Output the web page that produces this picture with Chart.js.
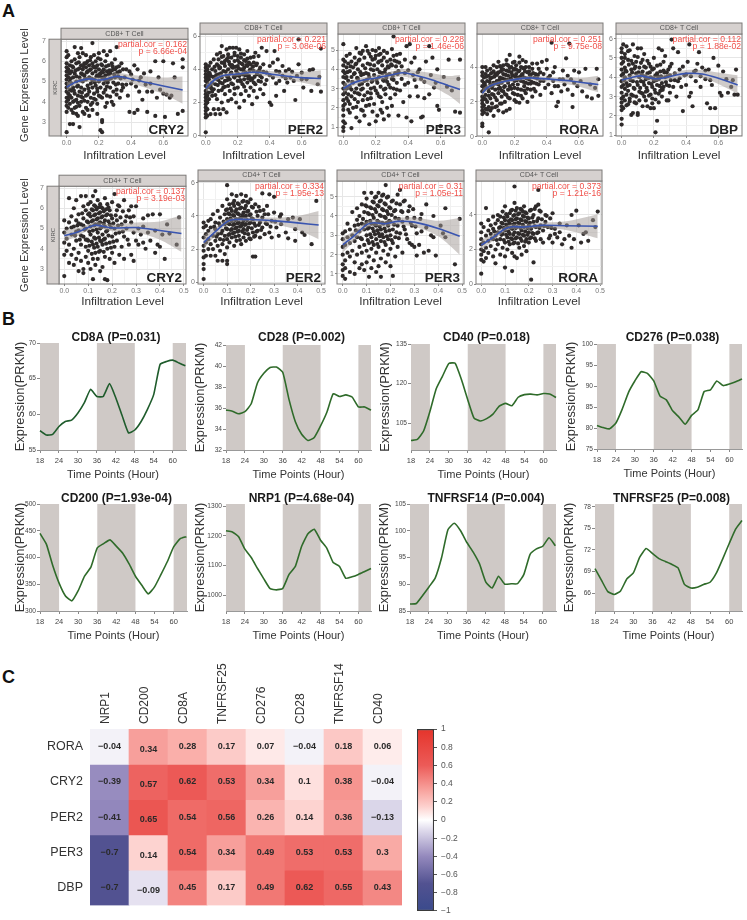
<!DOCTYPE html>
<html>
<head>
<meta charset="utf-8">
<title>Circadian genes and immune infiltration</title>
<script src="https://cdn.jsdelivr.net/npm/chart.js@4/dist/chart.umd.js"></script>
<style>
  html, body { margin: 0; padding: 0; background: #fff; }
  body { position: relative; width: 747px; height: 920px; overflow: hidden; font-family: "Liberation Sans", Arial, sans-serif; }
  canvas { position: absolute; }
  .letter { position: absolute; font-weight: bold; font-size: 18px; line-height: 18px; color: #111; }
</style>
</head>
<body>
<div class="letter" style="left:2px;top:2px">A</div>
<div class="letter" style="left:2px;top:310px">B</div>
<div class="letter" style="left:2px;top:668px">C</div>
<script>
const cd8Cry2Pts = [0,6.5,0,6.2,0,5.9,0,5.7,0,5.5,0,5.3,0,5.1,0,4.9,0,4.7,0,4.5,0,4.2,0,4.0,0,3.8,0,3.5,0,2.5,0.01,6.3,0.01,5.6,0.01,5.2,0.01,4.8,0.01,4.4,0.01,4.1,0.01,3.7,0.02,5.8,0.02,5.4,0.02,5.0,0.02,4.6,0.02,4.3,0.02,3.9,0.02,2.9,0.03,6.0,0.03,5.5,0.03,4.9,0.03,4.2,0.03,3.6,0.04,5.7,0.04,5.2,0.04,4.7,0.04,4.0,0.04,2.9,0.05,6.7,0.05,6.1,0.05,5.4,0.05,4.4,0.05,3.7,0.06,5.9,0.06,5.0,0.06,4.1,0.06,3.4,0.07,6.4,0.07,5.6,0.07,4.8,0.07,4.3,0.07,3.3,0.08,6.2,0.08,5.2,0.08,4.5,0.08,3.8,0.08,2.75,0.09,6.65,0.09,5.8,0.09,5.4,0.09,4.7,0.09,4.0,0.1,6.4,0.1,5.6,0.1,5.0,0.1,4.2,0.1,3.5,0.11,5.9,0.11,5.3,0.11,4.6,0.12,6.3,0.12,5.7,0.12,5.1,0.12,4.3,0.12,3.7,0.13,6.0,0.13,5.5,0.13,4.8,0.13,4.0,0.14,5.8,0.14,5.2,0.14,4.5,0.14,3.3,0.15,6.2,0.15,5.6,0.15,4.9,0.15,4.2,0.16,6.9,0.16,5.9,0.16,5.4,0.16,4.7,0.16,3.6,0.17,6.3,0.17,5.7,0.17,5.1,0.17,4.4,0.18,6.0,0.18,5.5,0.18,4.8,0.18,4.1,0.19,5.8,0.19,5.3,0.19,4.5,0.19,3.9,0.2,6.4,0.2,5.6,0.2,5.0,0.2,4.3,0.21,6.1,0.21,5.4,0.21,4.7,0.21,2.6,0.22,5.8,0.22,5.2,0.22,4.2,0.22,3.1,0.22,3.0,0.22,2.5,0.23,6.5,0.23,5.6,0.23,4.9,0.24,6.0,0.24,5.3,0.24,4.6,0.25,6.3,0.25,5.5,0.25,4.3,0.25,3.95,0.26,5.8,0.26,5.1,0.27,6.5,0.27,5.4,0.27,4.7,0.28,5.9,0.28,4.0,0.29,5.6,0.29,4.5,0.3,6.1,0.3,5.2,0.31,6.7,0.31,5.7,0.31,4.6,0.32,4.9,0.33,5.5,0.33,4.2,0.34,5.9,0.35,5.6,0.35,4.7,0.36,5.2,0.37,5.6,0.38,4.3,0.39,3.5,0.39,5.5,0.4,4.9,0.41,5.1,0.42,5.8,0.42,3.45,0.44,5.6,0.44,3.6,0.45,4.5,0.46,5.2,0.47,4.1,0.48,5.4,0.5,3.5,0.5,4.5,0.52,4.9,0.53,4.5,0.55,6.0,0.55,3.3,0.56,4.2,0.57,5.2,0.6,6.0,0.61,3.25,0.62,4.35,0.64,4.2,0.65,4.3,0.66,5.9,0.67,5.2,0.69,3.4,0.72,3.55,0.72,5.7,0.72,6.1];
const cd8Cry2Core = [0.015,5.45,0.025,5.15,0.035,5.75,0.045,4.55,0.055,5.55,0.065,4.75,0.075,5.95,0.085,5.05,0.095,4.45,0.105,5.75,0.115,5.15,0.125,5.45,0.135,4.65,0.145,6.05,0.155,5.15,0.165,5.75,0.175,4.95,0.185,5.25,0.195,6.15,0.205,5.35,0.215,5.85,0.225,5.45,0.235,5.15,0.245,5.75,0.255,4.95,0.265,5.55,0.275,5.15,0.285,5.75,0.295,5.35,0.305,4.85,0.315,5.45,0.325,5.75,0.335,5.15,0.345,4.85,0.015,4.25,0.03,4.55,0.05,4.05,0.07,3.95,0.09,4.25,0.11,4.05,0.13,4.35,0.15,3.85,0.17,4.15,0.19,4.65,0.21,4.25,0.23,4.45,0.25,4.75,0.27,4.25,0.29,4.95,0.31,4.35,0.06,5.25,0.08,5.65,0.1,5.35,0.12,5.9,0.14,5.55,0.16,5.05,0.18,5.7,0.2,5.25,0.22,5.5,0.24,5.05,0.26,5.35,0.28,5.55,0.3,5.6,0.32,5.25,0.04,3.45,0.06,3.75,0.11,3.4,0.13,3.6,0.16,3.95,0.19,3.4,0.24,3.75,0.29,3.85,0.34,4.55,0.37,4.85,0.4,5.35,0.43,4.75,0.45,5.05,0.49,4.85,0.52,5.5,0.58,4.6,0.6,4.4];

const cd8Per2Pts = [0,0.2,0,1.1,0,1.3,0,1.5,0,1.7,0,1.9,0,2.1,0,2.3,0,2.5,0,2.7,0,3.0,0,3.3,0,3.5,0,3.7,0,3.9,0,4.1,0,4.3,0.01,1.2,0.01,1.6,0.01,2.0,0.01,2.4,0.01,2.9,0.01,3.2,0.01,3.6,0.01,4.0,0.02,2.2,0.02,2.6,0.02,3.4,0.02,3.8,0.02,4.2,0.03,1.3,0.03,3.0,0.03,3.6,0.03,4.4,0.04,2.4,0.04,3.2,0.04,4.0,0.05,1.6,0.05,2.8,0.05,3.5,0.05,4.6,0.06,1.3,0.06,3.1,0.06,3.9,0.07,2.2,0.07,3.4,0.07,4.3,0.07,4.9,0.08,1.6,0.08,2.7,0.08,3.7,0.08,4.6,0.09,1.3,0.09,3.2,0.09,4.1,0.09,5.0,0.1,2.0,0.1,3.5,0.1,4.4,0.1,5.4,0.11,1.6,0.11,2.9,0.11,3.9,0.11,4.8,0.12,2.5,0.12,3.3,0.12,4.2,0.13,1.4,0.13,3.6,0.13,4.6,0.13,5.2,0.14,2.1,0.14,3.0,0.14,4.0,0.14,4.9,0.15,2.7,0.15,3.4,0.15,4.3,0.15,5.3,0.16,2.2,0.16,3.8,0.16,4.7,0.17,3.1,0.17,4.1,0.17,5.3,0.18,2.5,0.18,3.5,0.18,4.5,0.18,5.0,0.19,2.0,0.19,3.9,0.19,5.3,0.2,2.9,0.2,3.3,0.2,4.2,0.2,4.8,0.21,1.7,0.21,3.6,0.21,4.4,0.21,5.2,0.22,2.5,0.22,4.0,0.22,4.7,0.23,3.1,0.23,3.7,0.23,4.3,0.24,2.1,0.24,3.4,0.24,4.1,0.24,4.9,0.25,2.7,0.25,3.8,0.25,4.5,0.26,3.2,0.26,4.2,0.26,5.1,0.27,2.4,0.27,3.6,0.27,4.4,0.28,2.9,0.28,4.0,0.28,4.7,0.29,1.9,0.29,3.4,0.3,2.7,0.3,3.9,0.3,4.4,0.31,3.1,0.31,5.0,0.32,2.3,0.32,3.7,0.33,3.3,0.33,4.8,0.34,2.8,0.34,4.1,0.35,5.3,0.35,3.5,0.36,2.5,0.36,4.3,0.37,3.1,0.38,3.8,0.38,5.1,0.4,2.0,0.4,4.2,0.41,1.85,0.42,3.5,0.43,5.1,0.44,2.4,0.44,3.9,0.45,4.6,0.46,3.3,0.48,3.6,0.48,4.2,0.49,2.7,0.5,3.9,0.51,3.2,0.52,4.0,0.53,3.5,0.55,3.3,0.56,2.15,0.57,3.6,0.58,5.8,0.58,4.3,0.6,3.8,0.61,2.9,0.63,3.4,0.65,3.95,0.66,2.7,0.67,4.0,0.7,3.1,0.71,3.55,0.72,5.25,0.72,2.65];
const cd8Per2Core = [0.015,3.45,0.025,3.75,0.035,2.85,0.045,3.55,0.055,4.15,0.065,3.65,0.075,3.05,0.085,4.05,0.095,3.75,0.105,3.15,0.115,4.35,0.125,3.85,0.135,3.35,0.145,4.45,0.155,3.75,0.165,4.25,0.175,3.55,0.185,4.15,0.195,3.65,0.205,4.05,0.215,3.35,0.225,4.35,0.235,3.95,0.245,3.65,0.255,4.25,0.265,3.45,0.275,3.95,0.285,3.45,0.295,4.15,0.305,3.55,0.315,4.25,0.325,3.85,0.335,3.95,0.345,3.25,0.02,2.95,0.04,2.65,0.06,2.45,0.08,3.35,0.1,2.75,0.12,2.95,0.14,3.55,0.16,3.15,0.18,2.85,0.2,3.75,0.22,3.25,0.24,2.95,0.26,3.65,0.28,3.35,0.3,3.2,0.32,4.35,0.34,3.6,0.36,3.85,0.08,4.2,0.1,4.75,0.12,4.5,0.14,4.7,0.16,4.15,0.18,4.85,0.2,4.55,0.22,4.95,0.24,4.55,0.26,4.65,0.28,4.3,0.3,4.75,0.38,3.35,0.4,3.65,0.42,4.4,0.44,3.15,0.46,3.85,0.5,3.45,0.54,3.85,0.6,3.4];

const cd8Per3Pts = [0,0.8,0,1.0,0,1.3,0,1.6,0,1.9,0,2.1,0,2.4,0,2.7,0,3.0,0,3.3,0,3.6,0,3.9,0,4.2,0,4.5,0,5.3,0.01,1.2,0.01,2.2,0.01,2.8,0.01,3.2,0.01,3.8,0.01,4.4,0.02,2.5,0.02,3.0,0.02,3.6,0.02,4.1,0.02,4.7,0.03,1.9,0.03,2.7,0.03,3.4,0.03,4.3,0.04,2.2,0.04,3.1,0.04,3.9,0.04,4.8,0.05,0.95,0.05,2.6,0.05,3.6,0.05,4.4,0.06,2.0,0.06,3.3,0.06,4.1,0.07,2.8,0.07,3.8,0.07,4.6,0.08,1.5,0.08,3.0,0.08,4.3,0.08,5.1,0.09,2.3,0.09,3.5,0.09,4.0,0.1,1.3,0.1,2.7,0.1,3.2,0.1,4.5,0.11,1.9,0.11,3.7,0.11,4.8,0.12,2.4,0.12,3.0,0.12,4.2,0.13,1.6,0.13,3.4,0.13,4.6,0.14,2.1,0.14,3.8,0.14,5.2,0.15,2.8,0.15,3.2,0.15,4.3,0.16,1.15,0.16,3.6,0.16,4.8,0.17,2.5,0.17,3.0,0.17,4.0,0.18,1.8,0.18,3.4,0.18,4.5,0.18,5.0,0.19,2.2,0.19,3.7,0.19,4.2,0.2,1.3,0.2,2.9,0.2,4.7,0.21,1.6,0.21,3.3,0.21,4.0,0.22,2.6,0.22,3.6,0.22,4.4,0.22,5.1,0.23,1.9,0.23,3.1,0.23,4.8,0.24,2.3,0.24,3.8,0.24,4.2,0.25,1.4,0.25,3.4,0.25,4.6,0.26,2.7,0.26,3.0,0.26,4.0,0.27,2.0,0.27,3.7,0.27,4.4,0.28,1.6,0.28,3.2,0.28,4.1,0.29,2.5,0.29,4.5,0.3,2.1,0.3,3.5,0.3,4.2,0.31,3.0,0.31,5.7,0.31,4.7,0.32,2.7,0.32,3.8,0.33,3.3,0.33,4.4,0.34,1.6,0.34,3.9,0.35,2.9,0.35,4.8,0.36,3.5,0.37,2.3,0.38,3.8,0.38,4.5,0.39,1.5,0.39,5.2,0.4,3.3,0.41,2.6,0.41,5.3,0.42,1.3,0.43,3.7,0.44,4.6,0.45,3.1,0.46,2.6,0.47,4.0,0.48,1.5,0.48,3.5,0.49,1.55,0.5,2.5,0.51,4.4,0.53,2.7,0.53,5.2,0.54,3.7,0.55,4.6,0.57,3.3,0.58,2.1,0.58,4.0,0.59,1.9,0.6,1.05,0.62,3.6,0.64,3.1,0.65,4.5,0.67,2.9,0.69,1.8,0.71,3.5,0.72,1.75,0.72,4.5];
const cd8Per3Core = [0.015,3.55,0.025,3.85,0.035,3.05,0.045,4.15,0.055,3.35,0.065,3.75,0.075,4.25,0.085,3.55,0.095,4.45,0.105,3.85,0.115,3.25,0.125,3.75,0.135,4.05,0.145,3.45,0.155,3.75,0.165,4.25,0.175,3.35,0.185,3.95,0.195,4.55,0.205,3.45,0.215,4.35,0.225,3.85,0.235,4.45,0.245,3.45,0.255,3.85,0.265,3.55,0.275,4.15,0.285,3.75,0.295,4.25,0.305,3.65,0.315,4.45,0.325,4.15,0.335,3.75,0.345,4.35,0.03,2.35,0.05,2.95,0.07,2.45,0.09,2.75,0.11,2.95,0.13,2.65,0.15,2.45,0.17,2.75,0.19,3.05,0.21,2.75,0.23,2.55,0.25,2.95,0.27,3.35,0.29,3.05,0.31,3.45,0.33,2.95,0.04,1.75,0.08,2.05,0.12,1.85,0.16,2.15,0.24,1.75,0.1,4.85,0.12,4.95,0.15,4.95,0.17,4.65,0.2,4.95,0.22,4.75,0.25,4.95,0.27,4.85,0.3,5.05,0.33,4.75,0.36,4.15,0.38,3.2,0.4,3.95,0.42,4.35,0.44,3.45,0.46,3.85,0.5,3.35,0.56,3.05];

const cd8RoraPts = [0,0.6,0,0.75,0,1.3,0,1.5,0,1.7,0,1.9,0,2.1,0,2.3,0,2.6,0,2.9,0,3.2,0,3.5,0,3.7,0,4.0,0.01,1.4,0.01,1.8,0.01,2.2,0.01,2.7,0.01,3.1,0.01,3.4,0.02,1.6,0.02,2.4,0.02,2.9,0.02,3.6,0.02,4.0,0.03,1.3,0.03,2.0,0.03,3.2,0.03,3.8,0.04,0.25,0.04,1.7,0.04,2.6,0.04,3.5,0.05,1.5,0.05,2.2,0.05,3.0,0.05,3.9,0.06,1.9,0.06,2.8,0.06,3.4,0.07,1.2,0.07,2.4,0.07,3.1,0.07,4.1,0.08,1.7,0.08,2.7,0.08,3.6,0.09,2.1,0.09,3.2,0.09,4.0,0.1,1.5,0.1,2.5,0.1,3.0,0.1,3.7,0.1,4.3,0.11,1.9,0.11,2.8,0.11,3.4,0.12,2.3,0.12,3.1,0.12,3.9,0.13,1.4,0.13,2.6,0.13,3.6,0.13,4.1,0.14,2.0,0.14,2.9,0.14,3.3,0.15,1.5,0.15,2.4,0.15,3.8,0.15,4.4,0.16,2.7,0.16,3.1,0.16,3.5,0.16,4.1,0.17,1.6,0.17,2.2,0.17,2.9,0.17,4.7,0.18,3.3,0.18,3.7,0.18,4.0,0.19,2.5,0.19,3.0,0.19,3.5,0.2,2.1,0.2,2.8,0.2,3.2,0.2,3.9,0.2,4.3,0.21,2.0,0.21,3.6,0.21,4.1,0.22,2.4,0.22,3.0,0.22,3.4,0.23,1.95,0.23,3.8,0.23,4.6,0.24,2.7,0.24,3.2,0.24,4.0,0.25,2.2,0.25,3.6,0.25,4.4,0.26,2.9,0.26,3.4,0.26,3.9,0.27,2.5,0.27,3.1,0.27,4.3,0.28,3.7,0.28,2.0,0.29,3.3,0.29,4.0,0.3,2.7,0.3,3.5,0.31,2.3,0.31,3.9,0.32,3.1,0.33,2.6,0.33,3.6,0.34,4.2,0.35,3.0,0.36,2.4,0.36,3.7,0.37,4.3,0.38,3.2,0.39,2.8,0.4,3.9,0.4,4.4,0.41,3.0,0.42,3.5,0.43,5.4,0.43,2.5,0.44,3.2,0.45,2.9,0.45,4.0,0.46,1.75,0.47,2.0,0.48,3.3,0.49,2.6,0.5,3.8,0.51,3.0,0.52,4.5,0.53,2.7,0.54,5.35,0.55,3.3,0.56,1.7,0.56,2.4,0.57,3.8,0.59,2.9,0.6,3.7,0.61,3.2,0.62,2.6,0.64,3.9,0.65,2.3,0.67,3.0,0.68,2.2,0.7,2.8,0.71,3.9,0.72,3.3,0.72,2.35];
const cd8RoraCore = [0.015,3.05,0.025,3.45,0.035,2.75,0.045,3.15,0.055,3.65,0.065,2.95,0.075,3.45,0.085,3.05,0.095,3.65,0.105,3.25,0.115,3.75,0.125,3.35,0.135,2.85,0.145,3.55,0.155,3.25,0.165,3.75,0.175,3.35,0.185,3.55,0.195,3.85,0.205,3.45,0.215,3.25,0.225,3.75,0.235,3.45,0.245,3.55,0.255,3.15,0.265,3.75,0.275,3.35,0.285,3.05,0.295,3.55,0.305,3.15,0.315,3.65,0.325,3.4,0.335,3.05,0.345,3.55,0.02,2.15,0.04,2.35,0.06,2.45,0.08,2.25,0.1,2.75,0.12,2.65,0.14,2.45,0.16,2.25,0.18,2.75,0.2,2.45,0.22,2.75,0.24,2.35,0.26,2.65,0.28,2.75,0.3,3.05,0.32,2.75,0.34,3.35,0.36,3.2,0.05,3.35,0.07,3.75,0.09,3.55,0.11,4.05,0.13,3.85,0.15,4.15,0.17,3.95,0.19,4.25,0.21,3.85,0.23,4.25,0.25,3.95,0.27,4.0,0.29,3.75,0.31,4.2,0.35,3.9,0.38,3.6,0.41,3.4,0.44,3.7,0.47,2.9,0.5,3.3,0.53,3.5,0.57,3.1,0.03,1.55,0.06,1.65,0.09,1.75,0.12,1.9];

const cd8DbpPts = [0,1.55,0,1.85,0,2.3,0,2.5,0,2.7,0,2.9,0,3.2,0,3.5,0,3.8,0,4.1,0,4.4,0,4.7,0,5.0,0,5.3,0,5.5,0.01,2.4,0.01,3.0,0.01,3.6,0.01,4.2,0.01,4.8,0.01,5.7,0.02,2.8,0.02,3.4,0.02,4.0,0.02,4.5,0.02,5.2,0.03,3.1,0.03,3.7,0.03,4.3,0.03,5.6,0.04,2.6,0.04,3.3,0.04,4.9,0.05,2.9,0.05,4.1,0.05,5.4,0.05,3.6,0.06,2.05,0.06,3.1,0.06,4.4,0.07,2.15,0.07,3.8,0.07,4.7,0.07,5.7,0.08,2.7,0.08,3.4,0.08,5.1,0.09,3.0,0.09,4.2,0.09,4.8,0.1,2.05,0.1,2.15,0.1,3.6,0.1,5.5,0.11,2.8,0.11,4.0,0.11,4.5,0.12,3.2,0.12,3.8,0.12,5.5,0.13,2.5,0.13,4.3,0.13,4.9,0.14,3.0,0.14,3.6,0.14,5.2,0.15,2.8,0.15,3.9,0.15,4.5,0.16,2.5,0.16,3.3,0.16,4.2,0.17,3.7,0.17,4.7,0.18,2.4,0.18,3.1,0.18,4.0,0.19,2.9,0.19,3.5,0.19,4.4,0.2,2.4,0.2,3.8,0.2,5.0,0.21,1.15,0.21,3.2,0.21,4.1,0.22,1.75,0.22,3.6,0.22,4.6,0.23,2.7,0.23,3.9,0.23,5.5,0.24,3.3,0.24,4.3,0.25,3.0,0.25,3.7,0.25,5.4,0.26,3.5,0.26,4.8,0.27,4.0,0.27,5.1,0.28,2.8,0.28,3.6,0.29,4.4,0.29,2.8,0.3,3.2,0.3,4.1,0.31,5.95,0.31,4.7,0.32,3.5,0.32,5.5,0.33,4.2,0.34,3.0,0.35,5.3,0.35,3.8,0.36,4.4,0.37,3.5,0.38,2.25,0.39,4.1,0.4,3.6,0.41,4.8,0.42,5.7,0.42,3.0,0.43,3.2,0.44,2.5,0.45,4.3,0.46,3.8,0.47,4.7,0.48,5.3,0.49,3.5,0.5,4.5,0.52,3.9,0.53,2.65,0.54,4.4,0.55,2.4,0.56,3.6,0.57,5.0,0.58,2.4,0.6,4.6,0.61,3.2,0.62,3.05,0.63,4.3,0.65,3.9,0.66,3.2,0.68,3.5,0.69,3.85,0.7,3.1,0.71,4.4,0.72,3.1];
const cd8DbpCore = [0.015,3.85,0.025,4.35,0.035,3.55,0.045,4.65,0.055,3.85,0.065,4.25,0.075,3.45,0.085,4.55,0.095,3.75,0.105,4.25,0.115,3.45,0.125,4.15,0.135,3.75,0.145,4.05,0.155,3.45,0.165,3.95,0.175,4.25,0.185,3.65,0.195,3.95,0.205,3.35,0.215,3.85,0.225,4.05,0.235,3.55,0.245,4.05,0.255,3.35,0.265,4.25,0.275,3.75,0.285,4.05,0.295,3.55,0.305,3.85,0.03,2.55,0.05,2.75,0.07,3.05,0.09,2.65,0.11,3.25,0.13,3.15,0.15,3.25,0.17,3.05,0.19,2.65,0.21,2.85,0.23,3.15,0.25,3.45,0.02,5.0,0.04,5.35,0.06,4.85,0.08,4.45,0.1,5.05,0.12,4.75,0.14,4.55,0.16,4.85,0.18,4.55,0.2,4.45,0.22,4.2,0.24,4.65,0.26,4.35,0.28,4.25,0.3,4.55,0.33,3.85,0.36,3.95,0.38,4.55,0.4,4.15,0.43,4.05,0.46,4.35,0.49,4.05,0.52,4.35,0.55,3.85];

const cd4Cry2Pts = [0,2.65,0,3.7,0,4.3,0,4.8,0,5.4,0.01,3.9,0.01,4.5,0.01,5.0,0.02,5.3,0.02,6.5,0.02,4.2,0.02,3.3,0.03,4.7,0.03,5.6,0.03,3.7,0.04,4.0,0.04,5.1,0.04,6.0,0.04,3.2,0.05,4.4,0.05,5.4,0.05,6.4,0.05,3.5,0.06,3.8,0.06,4.9,0.06,5.7,0.06,2.9,0.07,4.2,0.07,5.2,0.07,6.6,0.07,3.4,0.08,4.6,0.08,5.5,0.08,6.1,0.08,3.0,0.08,2.8,0.09,3.6,0.09,4.1,0.09,5.0,0.09,5.9,0.09,6.6,0.1,3.3,0.1,4.4,0.1,5.3,0.1,6.2,0.1,5.7,0.1,3.9,0.11,4.7,0.11,5.1,0.11,5.6,0.11,6.3,0.11,3.0,0.12,3.5,0.12,4.2,0.12,4.9,0.12,5.4,0.12,5.9,0.12,6.6,0.12,2.5,0.13,3.8,0.13,4.5,0.13,5.2,0.13,5.7,0.13,6.1,0.13,6.85,0.13,3.2,0.14,4.1,0.14,4.8,0.14,5.5,0.14,6.4,0.14,3.5,0.15,4.4,0.15,5.0,0.15,5.3,0.15,5.8,0.15,6.2,0.15,2.9,0.15,3.9,0.16,4.2,0.16,4.7,0.16,5.6,0.16,6.0,0.16,3.1,0.17,3.6,0.17,4.5,0.17,5.1,0.17,5.4,0.17,6.5,0.17,2.5,0.18,4.0,0.18,4.9,0.18,5.7,0.18,6.2,0.18,2.45,0.19,3.5,0.19,4.3,0.19,5.2,0.19,5.9,0.2,3.8,0.2,4.6,0.2,5.5,0.2,6.3,0.21,3.3,0.21,4.1,0.21,5.0,0.21,6.7,0.22,4.4,0.22,5.4,0.22,5.9,0.23,3.7,0.23,4.8,0.23,6.1,0.24,4.1,0.24,5.2,0.25,3.5,0.25,4.6,0.25,6.4,0.26,5.0,0.26,5.6,0.27,4.2,0.27,5.9,0.28,3.7,0.28,5.3,0.28,6.1,0.29,4.8,0.29,3.4,0.3,6.1,0.3,4.4,0.31,5.0,0.32,4.7,0.33,5.5,0.33,4.3,0.34,4.0,0.35,4.8,0.36,4.4,0.37,5.7,0.38,3.8,0.38,4.9,0.39,4.2,0.4,5.7,0.4,4.1,0.41,4.7,0.42,3.5,0.43,5.2,0.44,4.75,0.47,4.2,0.48,5.55];
const cd4Cry2Core = [0.045,4.65,0.055,5.15,0.065,4.45,0.075,5.75,0.085,4.95,0.095,5.35,0.095,4.45,0.105,5.75,0.105,4.85,0.105,4.15,0.115,5.35,0.115,5.95,0.115,4.35,0.115,3.75,0.125,5.65,0.125,5.15,0.125,4.55,0.125,4.05,0.125,6.15,0.135,5.45,0.135,4.95,0.135,4.25,0.135,5.95,0.145,5.75,0.145,5.25,0.145,4.55,0.145,6.05,0.145,3.85,0.155,5.55,0.155,5.05,0.155,4.35,0.155,6.05,0.165,5.85,0.165,5.25,0.165,4.45,0.165,3.85,0.175,5.65,0.175,4.85,0.175,4.25,0.175,5.95,0.185,5.35,0.185,4.65,0.185,6.05,0.195,5.65,0.195,5.05,0.195,4.05,0.205,5.25,0.205,4.35,0.215,5.65,0.215,4.75,0.225,5.15,0.225,6.15,0.235,5.55,0.245,4.85,0.245,5.85,0.255,5.35,0.265,4.45,0.275,5.55,0.03,5.05,0.05,4.85,0.07,4.65,0.09,4.45,0.06,5.25,0.08,5.15,0.29,5.6,0.31,4.2,0.33,5.1,0.35,5.65];

const cd4Per2Pts = [0,0.2,0,0.8,0,1.1,0,1.5,0,1.9,0,2.2,0,2.7,0,3.3,0,3.6,0.01,1.6,0.01,2.4,0.01,2.9,0.01,3.4,0.02,2.0,0.02,3.1,0.02,3.7,0.02,2.6,0.03,1.6,0.03,2.3,0.03,3.3,0.03,3.8,0.04,2.0,0.04,2.8,0.04,4.1,0.05,1.6,0.05,2.5,0.05,3.2,0.05,3.6,0.06,1.3,0.06,2.2,0.06,2.9,0.06,4.3,0.07,1.9,0.07,2.6,0.07,3.4,0.07,3.9,0.08,1.3,0.08,2.3,0.08,3.1,0.08,4.6,0.09,1.7,0.09,2.8,0.09,3.5,0.09,4.1,0.1,1.1,0.1,1.3,0.1,2.1,0.1,2.6,0.1,3.2,0.1,3.8,0.1,4.4,0.1,5.85,0.1,5.0,0.11,2.4,0.11,2.9,0.11,3.5,0.11,4.7,0.11,4.1,0.12,2.7,0.12,3.2,0.12,3.7,0.12,4.3,0.12,5.3,0.13,2.2,0.13,3.0,0.13,3.5,0.13,4.0,0.13,4.6,0.13,4.9,0.14,2.5,0.14,3.3,0.14,3.8,0.14,4.4,0.14,5.2,0.15,2.8,0.15,3.1,0.15,3.6,0.15,4.1,0.15,4.7,0.16,2.3,0.16,3.4,0.16,3.9,0.16,4.5,0.16,5.3,0.17,2.7,0.17,3.2,0.17,3.7,0.17,4.2,0.17,4.9,0.18,2.5,0.18,3.5,0.18,4.0,0.18,4.6,0.18,5.2,0.19,2.9,0.19,3.3,0.19,4.3,0.19,4.8,0.2,2.6,0.2,3.6,0.2,4.1,0.2,5.0,0.21,1.55,0.21,3.0,0.21,3.8,0.21,4.5,0.22,1.55,0.22,2.8,0.22,3.4,0.22,4.7,0.23,3.1,0.23,4.0,0.24,2.7,0.24,3.6,0.24,4.3,0.25,3.3,0.25,5.35,0.25,3.9,0.26,2.9,0.26,4.1,0.27,3.5,0.27,4.6,0.28,3.0,0.28,5.3,0.29,3.7,0.29,2.7,0.3,4.2,0.3,5.15,0.31,3.3,0.32,2.8,0.33,3.5,0.33,4.1,0.35,3.0,0.36,2.65,0.36,3.8,0.38,3.9,0.39,3.2,0.39,2.5,0.41,3.8,0.42,3.0,0.43,2.85,0.46,2.3,0.48,4.9];
const cd4Per2Core = [0.045,3.35,0.055,2.75,0.065,3.55,0.075,2.95,0.085,3.65,0.085,2.55,0.095,3.25,0.095,4.35,0.105,3.55,0.105,2.85,0.105,4.15,0.115,3.15,0.115,3.85,0.115,4.45,0.125,2.95,0.125,3.45,0.125,4.05,0.125,4.75,0.135,2.75,0.135,3.25,0.135,3.75,0.135,4.25,0.145,3.05,0.145,3.55,0.145,4.15,0.145,4.75,0.155,2.55,0.155,3.35,0.155,3.85,0.155,4.45,0.165,3.05,0.165,3.55,0.165,4.05,0.165,4.85,0.175,2.95,0.175,3.45,0.175,3.95,0.175,4.45,0.185,3.15,0.185,3.75,0.185,4.25,0.185,4.85,0.195,2.65,0.195,3.55,0.195,4.05,0.205,3.25,0.205,3.85,0.205,4.55,0.215,2.75,0.215,3.55,0.225,3.05,0.225,4.25,0.235,3.45,0.235,4.55,0.245,3.15,0.255,4.35,0.265,3.55,0.275,4.1,0.285,3.35,0.305,3.65,0.325,3.95];

const cd4Per3Pts = [0,0.9,0,1.2,0,1.5,0,2.0,0,2.4,0,2.8,0,3.1,0.01,0.75,0.01,1.3,0.01,1.7,0.01,2.5,0.01,3.2,0.02,2.1,0.02,2.9,0.02,3.6,0.03,1.1,0.03,1.9,0.03,2.6,0.03,3.3,0.04,2.2,0.04,3.0,0.04,4.2,0.05,1.0,0.05,1.6,0.05,2.7,0.05,3.5,0.06,2.0,0.06,2.9,0.06,3.8,0.06,4.4,0.07,1.3,0.07,2.4,0.07,3.2,0.07,4.0,0.08,1.5,0.08,2.1,0.08,2.8,0.08,3.6,0.08,4.6,0.09,1.2,0.09,2.5,0.09,3.3,0.09,4.2,0.09,5.2,0.1,1.6,0.1,2.2,0.1,3.0,0.1,3.7,0.1,4.5,0.1,4.9,0.11,0.85,0.11,1.9,0.11,2.6,0.11,3.4,0.11,4.1,0.12,1.3,0.12,2.3,0.12,2.9,0.12,3.6,0.12,4.4,0.12,5.2,0.13,1.7,0.13,2.5,0.13,3.2,0.13,3.9,0.13,4.7,0.14,1.1,0.14,2.1,0.14,2.8,0.14,3.5,0.14,4.2,0.14,5.0,0.15,1.4,0.15,2.4,0.15,3.1,0.15,3.7,0.15,4.5,0.15,5.2,0.16,0.85,0.16,1.8,0.16,2.7,0.16,3.3,0.16,4.0,0.16,4.8,0.17,2.2,0.17,2.9,0.17,3.6,0.17,4.3,0.17,5.1,0.18,1.6,0.18,2.5,0.18,3.2,0.18,3.9,0.18,4.6,0.18,5.6,0.19,2.0,0.19,2.8,0.19,3.5,0.19,4.1,0.19,5.0,0.2,1.4,0.2,2.3,0.2,3.0,0.2,3.7,0.2,4.4,0.21,0.9,0.21,2.6,0.21,3.3,0.21,4.8,0.22,1.9,0.22,2.9,0.22,3.9,0.22,4.3,0.23,2.4,0.23,3.5,0.23,5.1,0.24,3.1,0.24,4.6,0.24,5.35,0.25,2.1,0.25,3.7,0.25,4.2,0.26,3.3,0.26,4.8,0.27,2.8,0.27,3.9,0.28,2.6,0.28,4.5,0.29,2.5,0.29,3.5,0.3,2.4,0.3,3.9,0.31,1.95,0.31,3.1,0.32,2.5,0.33,3.2,0.33,4.1,0.34,2.1,0.35,4.6,0.35,3.4,0.36,2.2,0.37,3.0,0.38,2.9,0.38,4.0,0.39,1.95,0.41,3.5,0.42,3.1,0.43,2.9,0.43,4.4,0.47,1.5,0.49,3.85];
const cd4Per3Core = [0.055,3.25,0.065,3.55,0.075,2.85,0.085,3.85,0.095,3.55,0.095,4.55,0.105,3.35,0.105,4.15,0.105,2.75,0.115,3.75,0.115,4.45,0.115,3.05,0.125,3.35,0.125,4.05,0.125,4.75,0.125,2.65,0.135,3.55,0.135,4.35,0.135,3.05,0.135,4.95,0.145,3.75,0.145,4.55,0.145,3.25,0.145,2.55,0.155,3.45,0.155,4.05,0.155,4.75,0.155,2.95,0.165,3.65,0.165,4.35,0.165,3.05,0.165,5.05,0.175,3.95,0.175,4.65,0.175,3.35,0.175,2.65,0.185,3.65,0.185,4.25,0.185,4.95,0.185,2.95,0.195,3.75,0.195,4.45,0.195,3.25,0.205,4.05,0.205,4.75,0.205,2.75,0.215,3.55,0.215,4.25,0.225,3.15,0.225,4.65,0.235,3.85,0.235,2.85,0.245,4.25,0.255,3.45,0.255,4.75,0.265,3.05,0.275,4.25,0.285,3.65,0.295,4.35,0.305,3.45,0.325,3.85];

const cd4RoraPts = [0,0.6,0,1.4,0,1.7,0,2.0,0,2.3,0,2.6,0,3.0,0,3.5,0.01,1.3,0.01,1.9,0.01,2.4,0.01,3.3,0.02,1.5,0.02,2.1,0.02,2.8,0.02,4.4,0.03,1.8,0.03,2.5,0.03,3.1,0.03,3.7,0.04,2.2,0.04,2.9,0.04,3.4,0.05,1.6,0.05,2.6,0.05,3.2,0.05,3.9,0.06,1.2,0.06,2.0,0.06,2.8,0.06,3.5,0.07,2.3,0.07,3.0,0.07,3.7,0.07,4.0,0.08,1.7,0.08,2.6,0.08,3.3,0.08,3.9,0.09,2.1,0.09,2.9,0.09,3.5,0.09,4.2,0.1,0.95,0.1,1.6,0.1,2.4,0.1,3.1,0.1,3.7,0.1,4.5,0.11,2.0,0.11,2.7,0.11,3.3,0.11,3.9,0.12,2.3,0.12,2.9,0.12,3.5,0.12,4.1,0.13,1.8,0.13,2.6,0.13,3.2,0.13,3.7,0.13,4.3,0.13,0.75,0.14,1.6,0.14,2.4,0.14,3.0,0.14,3.5,0.14,4.0,0.14,4.7,0.14,5.65,0.15,1.5,0.15,2.7,0.15,3.3,0.15,3.8,0.15,4.4,0.16,2.1,0.16,2.9,0.16,3.5,0.16,4.1,0.17,1.7,0.17,2.5,0.17,3.1,0.17,3.7,0.17,4.3,0.18,2.2,0.18,2.8,0.18,3.3,0.18,3.9,0.18,4.5,0.19,1.9,0.19,2.6,0.19,3.6,0.19,4.1,0.2,2.4,0.2,3.0,0.2,3.4,0.2,3.8,0.21,0.25,0.21,2.7,0.21,3.2,0.21,4.3,0.22,1.25,0.22,2.9,0.22,3.6,0.22,4.0,0.23,2.5,0.23,3.3,0.23,4.5,0.24,3.0,0.24,3.8,0.24,4.6,0.24,5.45,0.25,2.6,0.25,3.4,0.25,4.2,0.26,3.1,0.26,2.4,0.27,3.6,0.27,4.0,0.28,3.3,0.29,2.8,0.29,3.8,0.3,4.1,0.3,2.4,0.31,3.2,0.31,2.9,0.32,2.7,0.33,3.0,0.33,3.5,0.34,2.3,0.35,2.6,0.36,3.4,0.37,2.8,0.38,2.1,0.38,4.0,0.39,2.6,0.4,4.25,0.41,3.4,0.42,2.4,0.43,2.9,0.44,3.0,0.45,2.5,0.47,3.7,0.48,3.3,0.49,4.2];
const cd4RoraCore = [0.045,2.65,0.055,3.05,0.065,2.55,0.075,3.25,0.085,2.85,0.085,3.55,0.095,2.55,0.095,3.25,0.095,3.85,0.105,2.85,0.105,3.45,0.105,4.05,0.115,2.45,0.115,3.05,0.115,3.65,0.125,2.65,0.125,3.25,0.125,3.75,0.125,4.25,0.135,2.85,0.135,3.45,0.135,3.95,0.135,2.35,0.145,3.25,0.145,3.75,0.145,2.65,0.145,4.25,0.155,2.95,0.155,3.55,0.155,4.05,0.155,2.35,0.165,3.25,0.165,3.75,0.165,2.65,0.165,4.35,0.175,2.85,0.175,3.45,0.175,3.95,0.175,4.2,0.185,3.05,0.185,3.65,0.185,2.45,0.185,4.15,0.195,3.25,0.195,2.85,0.195,3.85,0.205,3.55,0.205,2.65,0.205,4.25,0.215,2.95,0.215,3.85,0.225,3.35,0.225,2.65,0.225,4.35,0.235,3.65,0.235,2.95,0.245,3.25,0.245,4.25,0.255,3.75,0.265,3.35,0.275,3.95,0.285,2.65,0.295,3.25];

/* ===== smooth fit and its band, per panel ===== */
const cd8Cry2FitX = [0,0.05,0.1,0.15,0.2,0.25,0.3,0.35,0.4,0.5,0.6,0.72];
const cd8Cry2Fit = [4.72,4.95,5.08,5.13,5.07,5.13,5.25,5.22,5.12,4.95,4.78,4.58];
const cd8Cry2Up = [4.95,5.1,5.2,5.25,5.2,5.27,5.42,5.4,5.33,5.25,5.2,5.25];
const cd8Cry2Lo = [4.5,4.8,4.95,5.0,4.95,5.0,5.08,5.03,4.92,4.67,4.38,3.9];

const cd8Per2FitX = [0,0.03,0.06,0.1,0.15,0.2,0.3,0.4,0.5,0.6,0.72];
const cd8Per2Fit = [2.85,3.15,3.4,3.6,3.68,3.72,3.82,3.72,3.6,3.5,3.45];
const cd8Per2Up = [3.1,3.35,3.55,3.73,3.8,3.85,3.97,3.9,3.82,3.85,3.95];
const cd8Per2Lo = [2.6,2.95,3.25,3.47,3.56,3.6,3.67,3.54,3.38,3.2,2.95];

const cd8Per3FitX = [0,0.05,0.1,0.2,0.3,0.37,0.45,0.55,0.65,0.72];
const cd8Per3Fit = [3.0,3.25,3.4,3.55,3.72,3.82,3.68,3.45,3.15,2.95];
const cd8Per3Up = [3.25,3.42,3.55,3.7,3.9,4.02,3.92,3.8,3.65,3.7];
const cd8Per3Lo = [2.75,3.08,3.25,3.4,3.54,3.62,3.44,3.1,2.65,2.2];

const cd8RoraFitX = [0,0.03,0.07,0.15,0.25,0.3,0.45,0.55,0.63,0.72];
const cd8RoraFit = [2.5,2.8,3.0,3.2,3.35,3.38,3.28,3.2,3.1,3.0];
const cd8RoraUp = [2.72,2.95,3.12,3.3,3.45,3.5,3.42,3.42,3.4,3.5];
const cd8RoraLo = [2.28,2.65,2.88,3.1,3.25,3.26,3.14,2.98,2.8,2.55];

const cd8DbpFitX = [0,0.06,0.12,0.2,0.25,0.32,0.4,0.5,0.6,0.72];
const cd8DbpFit = [3.86,3.98,4.07,3.93,3.95,4.08,4.2,4.17,3.95,3.6];
const cd8DbpUp = [4.05,4.12,4.22,4.08,4.1,4.25,4.38,4.37,4.25,4.1];
const cd8DbpLo = [3.67,3.84,3.92,3.78,3.8,3.91,4.02,3.97,3.65,3.15];

const cd4Cry2FitX = [0,0.05,0.1,0.13,0.2,0.3,0.4,0.49];
const cd4Cry2Fit = [4.65,4.8,5.05,5.17,5.03,5.05,4.9,4.75];
const cd4Cry2Up = [4.95,5.0,5.2,5.32,5.2,5.3,5.35,5.65];
const cd4Cry2Lo = [4.35,4.6,4.9,5.02,4.86,4.8,4.45,3.85];

const cd4Per2FitX = [0,0.05,0.1,0.13,0.2,0.3,0.4,0.49];
const cd4Per2Fit = [2.4,3.05,3.65,3.78,3.78,3.7,3.58,3.45];
const cd4Per2Up = [2.8,3.3,3.8,3.92,3.92,3.9,4.0,4.3];
const cd4Per2Lo = [2.0,2.8,3.5,3.64,3.64,3.5,3.15,2.6];

const cd4Per3FitX = [0,0.05,0.1,0.13,0.18,0.23,0.3,0.4,0.49];
const cd4Per3Fit = [2.5,3.0,3.55,3.65,3.6,3.72,3.68,3.35,2.95];
const cd4Per3Up = [2.9,3.25,3.72,3.82,3.76,3.9,3.92,3.75,3.9];
const cd4Per3Lo = [2.1,2.75,3.38,3.48,3.44,3.54,3.44,2.95,2.0];

const cd4RoraFitX = [0,0.05,0.1,0.13,0.18,0.25,0.35,0.49];
const cd4RoraFit = [2.25,2.7,3.2,3.32,3.3,3.4,3.38,3.35];
const cd4RoraUp = [2.55,2.9,3.35,3.46,3.44,3.56,3.62,4.05];
const cd4RoraLo = [1.95,2.5,3.05,3.18,3.16,3.24,3.14,2.65];

/* ===== panel B series, one value per 2 hours ===== */
const timeHours = [18,20,22,24,26,28,30,32,34,36,38,40,42,44,46,48,50,52,54,56,58,60,62,64];
const timeTicks = [18,24,30,36,42,48,54,60];
const darkBands = [[18,24],[36,48],[60,64.2]];

const cd8aSeries = [57.7,57.1,57.2,58.3,59.0,59.2,60.2,61.6,63.5,62.5,62.5,64.3,62.3,59.8,57.4,57.8,59.0,60.7,62.8,67.0,67.4,67.6,67.2,66.8];
const cd28Series = [35.8,35.7,35.45,35.65,36.4,38.4,39.3,39.85,39.9,39.4,36.8,34.7,33.5,32.9,33.2,34.3,35.6,37.35,37.1,37.25,37.05,36.1,36.1,35.8];
const cd40Series = [98.4,98.8,102,109.4,118,122.8,127.6,127.7,121.5,113.9,106.9,105.8,106.7,108.4,111.4,112.5,111.6,114.8,115.8,116,115.7,116.2,116,114.7];
const cd276Series = [80.6,80.1,79.8,81.2,84.5,88.5,91.2,93.4,93,91.2,87.6,86.7,84.1,82.6,80.9,83,84.3,88.7,89.1,91.2,90.1,90.5,91,91.7];
const cd200Series = [445,425,385,352,328,319,338,365,382,418,426,433,421,408,388,365,348,332,345,368,392,420,435,439];
const nrp1Series = [1217,1213,1197,1155,1127,1090,1055,1022,1018,1023,1070,1097,1165,1207,1222,1185,1158,1110,1097,1057,1062,1070,1080,1090];
const tnfrsf14Series = [86.3,86.4,87.9,89.5,91.2,95,100.2,101.4,100,97.8,96,93.8,90.4,89.3,91.5,90,90.1,90.1,91.8,95.6,96.6,97.1,98.7,97.2];
const tnfrsf25Series = [69.4,67.8,66.2,65.8,66.3,68,68.8,71,72.2,71.5,70.8,70.4,70,69.5,67.2,66.7,66.8,67.2,67.5,68.8,70.8,72.9,74.9,76.1];

/* ===== panel C ===== */
const heatCols = ["NRP1","CD200","CD8A","TNFRSF25","CD276","CD28","TNFRSF14","CD40"];
const heatRows = ["RORA","CRY2","PER2","PER3","DBP"];
const roraCorr = [-0.04,0.34,0.28,0.17,0.07,-0.04,0.18,0.06];
const cry2Corr = [-0.39,0.57,0.62,0.53,0.34,0.1,0.38,-0.04];
const per2Corr = [-0.41,0.65,0.54,0.56,0.26,0.14,0.36,-0.13];
const per3Corr = [-0.7,0.14,0.54,0.34,0.49,0.53,0.53,0.3];
const dbpCorr = [-0.7,-0.09,0.45,0.17,0.49,0.62,0.55,0.43];
const colorbarTicks = [1,0.8,0.6,0.4,0.2,0,-0.2,-0.4,-0.6,-0.8,-1];

/* =========================================
   SHARED HELPERS
   ========================================= */
Chart.defaults.font.family = "'Liberation Sans', Arial, sans-serif";
Chart.defaults.animation = false;
Chart.defaults.responsive = false;
Chart.defaults.devicePixelRatio = 1;
Chart.defaults.plugins.legend.display = false;
Chart.defaults.plugins.tooltip.enabled = false;

const pairs = flat => {
  const out = [];
  for (let i = 0; i < flat.length; i += 2) out.push({ x: flat[i], y: flat[i + 1] });
  return out;
};
const zip = (xs, ys) => xs.map((x, i) => ({ x, y: ys[i] }));

// canvas sized so the plot area lands on box = [left, top, width, height]
function addChart(box, margin, config, padding) {
  const [l, t, r, b] = margin;
  const cv = document.createElement("canvas");
  cv.width = box[2] + l + r;
  cv.height = box[3] + t + b;
  cv.style.left = box[0] - l + "px";
  cv.style.top = box[1] - t + "px";
  document.body.appendChild(cv);
  config.options.layout = { autoPadding: false, padding: padding || { top: t, right: r, left: 0, bottom: 0 } };
  return new Chart(cv, config);
}
const setTicks = list => scale => { scale.ticks = list.map(v => ({ value: v })); };
const fixHeight = h => scale => { scale.height = h; };
const fixWidth = w => scale => { scale.width = w; };

/* =========================================
   PANEL A - SCATTER WITH SMOOTH
   ========================================= */
const scatterOverlay = {
  id: "scatterOverlay",
  afterDraw(chart, args, o) {
    const { ctx, chartArea: a } = chart;
    ctx.save();
    ctx.strokeStyle = "#7d7a78";
    ctx.lineWidth = 1;
    ctx.strokeRect(a.left, a.top, a.right - a.left, a.bottom - a.top);
    // facet strip
    ctx.fillStyle = "#d6d1cf";
    ctx.fillRect(a.left, a.top - 11, a.right - a.left, 11);
    ctx.strokeRect(a.left, a.top - 11, a.right - a.left, 11);
    ctx.fillStyle = "#555";
    ctx.font = "7px 'Liberation Sans'";
    ctx.textAlign = "center";
    ctx.textBaseline = "middle";
    ctx.fillText(o.strip, (a.left + a.right) / 2, a.top - 5.5);
    if (o.kirc) {
      ctx.fillStyle = "#d6d1cf";
      ctx.fillRect(a.left - 12, a.top, 12, a.bottom - a.top);
      ctx.strokeRect(a.left - 12, a.top, 12, a.bottom - a.top);
      ctx.save();
      ctx.translate(a.left - 6, (a.top + a.bottom) / 2);
      ctx.rotate(-Math.PI / 2);
      ctx.fillStyle = "#555";
      ctx.font = "6px 'Liberation Sans'";
      ctx.fillText("KIRC", 0, 0);
      ctx.restore();
      // row title sits a little above the panel centre
      ctx.save();
      ctx.translate(7, a.top + o.rowTitleDy);
      ctx.rotate(-Math.PI / 2);
      ctx.fillStyle = "#333";
      ctx.font = "11px 'Liberation Sans'";
      ctx.fillText("Gene Expression Level", 0, 0);
      ctx.restore();
    }
    ctx.textAlign = "right";
    ctx.fillStyle = "#f0504a";
    ctx.font = "8.6px 'Liberation Sans'";
    ctx.fillText(o.cor, a.right - 1, a.top + 5.5);
    ctx.fillText(o.p, a.right - 1, a.top + 12.5);
    ctx.fillStyle = "#222";
    ctx.font = "bold 13.5px 'Liberation Sans'";
    ctx.textBaseline = "alphabetic";
    ctx.fillText(o.gene, a.right - 4, a.bottom - 2.5);
    ctx.restore();
  },
};

function scatterPanel(p) {
  const first = !!p.leftMargin;
  const left = first ? p.leftMargin : 14;
  const bottom = p.bottom;
  const minorX = p.xMajor.slice(0, -1).map((v, i) => (v + p.xMajor[i + 1]) / 2);
  const minorY = p.yMajor.slice(0, -1).map((v, i) => (v + p.yMajor[i + 1]) / 2);
  const isMajor = (list, v) => list.some(m => Math.abs(m - v) < 1e-6);
  addChart(p.box, [left, 12, 3, bottom], {
    type: "scatter",
    data: {
      datasets: [
        { data: zip(p.fitX, p.fit), showLine: true, borderColor: "#3a55b0", borderWidth: 1.6, pointRadius: 0, tension: 0.3, order: 0 },
        { data: zip(p.fitX, p.up), showLine: true, borderWidth: 0, pointRadius: 0, tension: 0.3, fill: "+1", backgroundColor: "rgba(160,152,148,0.5)", order: 1 },
        { data: zip(p.fitX, p.lo), showLine: true, borderWidth: 0, pointRadius: 0, tension: 0.3, order: 2 },
        { data: pairs(p.pts), pointRadius: 2.1, pointBackgroundColor: "#2e2a2a", pointBorderWidth: 0, order: 3 },
      ],
    },
    options: {
      scales: {
        x: {
          type: "linear", min: p.xr[0], max: p.xr[1],
          afterBuildTicks: setTicks([...p.xMajor, ...minorX]),
          afterFit: fixHeight(bottom),
          ticks: {
            autoSkip: false, maxRotation: 0, font: { size: 7 }, color: "#777", padding: 1,
            callback: v => (isMajor(p.xMajor, v) ? v.toFixed(1) : ""),
          },
          grid: {
            tickLength: 2,
            color: c => (isMajor(p.xMajor, c.tick.value) ? "#e6e6e6" : "#f1f1f1"),
            tickColor: c => (isMajor(p.xMajor, c.tick.value) ? "#888" : "transparent"),
          },
          border: { display: false },
          title: { display: true, text: "Infiltration Level", font: { size: 11.8 }, color: "#333", padding: 0 },
        },
        y: {
          type: "linear", min: p.yr[0], max: p.yr[1],
          afterBuildTicks: setTicks([...p.yMajor, ...minorY]),
          afterFit: fixWidth(left),
          ticks: {
            autoSkip: false, font: { size: 7 }, color: "#777", padding: first ? 13 : 1,
            callback: v => (isMajor(p.yMajor, v) ? String(v) : ""),
          },
          grid: {
            tickLength: 2,
            color: c => (isMajor(p.yMajor, c.tick.value) ? "#e6e6e6" : "#f1f1f1"),
            tickColor: c => (isMajor(p.yMajor, c.tick.value) ? "#888" : "transparent"),
          },
          border: { display: false },
        },
      },
      plugins: { scatterOverlay: { strip: p.strip, gene: p.gene, cor: p.cor, p: p.p, kirc: first, rowTitleDy: p.rowTitleDy } },
    },
    plugins: [scatterOverlay],
  });
}

const cd8X = [0, 0.2, 0.4, 0.6];
const cd4X = [0, 0.1, 0.2, 0.3, 0.4, 0.5];
scatterPanel({ box: [61, 34, 127, 102], strip: "CD8+ T Cell", gene: "CRY2", cor: "partial.cor = 0.162", p: "p = 6.66e-04", pts: [...cd8Cry2Pts, ...cd8Cry2Core], fitX: cd8Cry2FitX, fit: cd8Cry2Fit, up: cd8Cry2Up, lo: cd8Cry2Lo, xr: [-0.035, 0.753], yr: [2.31, 7.09], xMajor: cd8X, yMajor: [3, 4, 5, 6, 7], bottom: 27, leftMargin: 43, rowTitleDy: 46 });
scatterPanel({ box: [200, 34, 127, 102], strip: "CD8+ T Cell", gene: "PER2", cor: "partial.cor = 0.221", p: "p = 3.08e-06", pts: [...cd8Per2Pts, ...cd8Per2Core], fitX: cd8Per2FitX, fit: cd8Per2Fit, up: cd8Per2Up, lo: cd8Per2Lo, xr: [-0.036, 0.758], yr: [-0.02, 6.13], xMajor: cd8X, yMajor: [0, 2, 4, 6], bottom: 27 });
scatterPanel({ box: [338, 34, 127, 102], strip: "CD8+ T Cell", gene: "PER3", cor: "partial.cor = 0.228", p: "p = 1.46e-06", pts: [...cd8Per3Pts, ...cd8Per3Core], fitX: cd8Per3FitX, fit: cd8Per3Fit, up: cd8Per3Up, lo: cd8Per3Lo, xr: [-0.033, 0.751], yr: [0.54, 5.83], xMajor: cd8X, yMajor: [1, 2, 3, 4, 5], bottom: 27 });
scatterPanel({ box: [477, 34, 126, 102], strip: "CD8+ T Cell", gene: "RORA", cor: "partial.cor = 0.251", p: "p = 9.75e-08", pts: [...cd8RoraPts, ...cd8RoraCore], fitX: cd8RoraFitX, fit: cd8RoraFit, up: cd8RoraUp, lo: cd8RoraLo, xr: [-0.033, 0.749], yr: [0.04, 5.9], xMajor: cd8X, yMajor: [0, 2, 4], bottom: 27 });
scatterPanel({ box: [616, 34, 126, 102], strip: "CD8+ T Cell", gene: "DBP", cor: "partial.cor = 0.112", p: "p = 1.88e-02", pts: [...cd8DbpPts, ...cd8DbpCore], fitX: cd8DbpFitX, fit: cd8DbpFit, up: cd8DbpUp, lo: cd8DbpLo, xr: [-0.035, 0.747], yr: [0.96, 6.24], xMajor: cd8X, yMajor: [1, 2, 3, 4, 5, 6], bottom: 27 });

scatterPanel({ box: [59, 181, 127, 103], strip: "CD4+ T Cell", gene: "CRY2", cor: "partial.cor = 0.137", p: "p = 3.19e-03", pts: [...cd4Cry2Pts, ...cd4Cry2Core], fitX: cd4Cry2FitX, fit: cd4Cry2Fit, up: cd4Cry2Up, lo: cd4Cry2Lo, xr: [-0.022, 0.509], yr: [2.26, 7.09], xMajor: cd4X, yMajor: [3, 4, 5, 6, 7], bottom: 25, leftMargin: 41, rowTitleDy: 49 });
scatterPanel({ box: [198, 181, 127, 103], strip: "CD4+ T Cell", gene: "PER2", cor: "partial.cor = 0.334", p: "p = 1.95e-13", pts: [...cd4Per2Pts, ...cd4Per2Core], fitX: cd4Per2FitX, fit: cd4Per2Fit, up: cd4Per2Up, lo: cd4Per2Lo, xr: [-0.024, 0.517], yr: [-0.1, 6.1], xMajor: cd4X, yMajor: [0, 2, 4, 6], bottom: 25 });
scatterPanel({ box: [337, 181, 127, 103], strip: "CD4+ T Cell", gene: "PER3", cor: "partial.cor = 0.31", p: "p = 1.05e-11", pts: [...cd4Per3Pts, ...cd4Per3Core], fitX: cd4Per3FitX, fit: cd4Per3Fit, up: cd4Per3Up, lo: cd4Per3Lo, xr: [-0.024, 0.508], yr: [0.48, 5.81], xMajor: cd4X, yMajor: [1, 2, 3, 4, 5], bottom: 25 });
scatterPanel({ box: [476, 181, 126, 103], strip: "CD4+ T Cell", gene: "RORA", cor: "partial.cor = 0.373", p: "p = 1.21e-16", pts: [...cd4RoraPts, ...cd4RoraCore], fitX: cd4RoraFitX, fit: cd4RoraFit, up: cd4RoraUp, lo: cd4RoraLo, xr: [-0.022, 0.508], yr: [0, 5.97], xMajor: cd4X, yMajor: [0, 2, 4], bottom: 25 });

/* =========================================
   PANEL B - TIME COURSES
   ========================================= */
const bandsAndTitle = {
  id: "bandsAndTitle",
  beforeDatasetsDraw(chart) {
    const { ctx, chartArea: a, scales: { x } } = chart;
    ctx.save();
    ctx.fillStyle = "#cfc9c6";
    darkBands.forEach(([from, to]) => {
      const x0 = x.getPixelForValue(from);
      const x1 = Math.min(x.getPixelForValue(to), a.right);
      ctx.fillRect(x0, a.top, x1 - x0, a.bottom - a.top);
    });
    ctx.restore();
  },
  afterDraw(chart, args, o) {
    const { ctx, chartArea: a } = chart;
    ctx.save();
    ctx.fillStyle = "#1a1a1a";
    ctx.font = "bold 12px 'Liberation Sans'";
    ctx.textAlign = "center";
    ctx.textBaseline = "middle";
    ctx.fillText(o.title, (a.left + a.right) / 2 + 3, a.top + o.titleDy);
    ctx.restore();
  },
};

function linePanel(p) {
  const left = p.left;
  addChart(p.box, [left, 16, 2, 32], {
    type: "line",
    data: {
      datasets: [{
        data: zip(timeHours, p.series), borderColor: p.color || "#2f6b2a", borderWidth: 1.6,
        pointRadius: 0, tension: 0.15, clip: false,
      }],
    },
    options: {
      scales: {
        x: {
          type: "linear", min: 18, max: p.xMax,
          afterBuildTicks: setTicks(timeTicks),
          afterFit: fixHeight(32),
          ticks: { autoSkip: false, maxRotation: 0, font: { size: 7.5 }, color: "#444", padding: 3, callback: v => String(v) },
          grid: { display: true, drawOnChartArea: false, tickLength: 3, tickColor: "#888" },
          border: { display: true, color: "#999" },
          title: { display: true, text: "Time Points (Hour)", font: { size: 11 }, color: "#333", padding: 0 },
        },
        y: {
          type: "linear", min: p.yr[0], max: p.yr[1],
          afterBuildTicks: setTicks(p.yTicks),
          afterFit: fixWidth(left),
          ticks: { autoSkip: false, font: { size: 6.6 }, color: "#444", padding: 1, callback: v => String(v) },
          grid: { display: true, drawOnChartArea: false, tickLength: 3, tickColor: "#888" },
          border: { display: true, color: "#999" },
          title: { display: true, text: "Expression(PRKM)", font: { size: 12.9 }, color: "#333", padding: 0 },
        },
      },
      plugins: { bandsAndTitle: { title: p.title, titleDy: p.titleDy } },
    },
    plugins: [bandsAndTitle],
  });
}

linePanel({ box: [40, 343, 146, 107], left: 27, title: "CD8A (P=0.031)", titleDy: -5, series: cd8aSeries, color: "#1f5c2c", xMax: 64.2, yr: [55, 70], yTicks: [55, 60, 65, 70] });
linePanel({ box: [226, 345, 145, 105], left: 33, title: "CD28 (P=0.002)", titleDy: -7, series: cd28Series, xMax: 64, yr: [32, 42], yTicks: [32, 34, 36, 38, 40, 42] });
linePanel({ box: [411, 344, 145, 106], left: 33, title: "CD40 (P=0.018)", titleDy: -6, series: cd40Series, xMax: 64, yr: [94.8, 135], yTicks: [105, 120, 135] });
linePanel({ box: [597, 344, 145, 105], left: 33, title: "CD276 (P=0.038)", titleDy: -6, series: cd276Series, xMax: 64, yr: [75, 100], yTicks: [75, 80, 85, 90, 95, 100] });
linePanel({ box: [40, 504, 147, 107], left: 27, title: "CD200 (P=1.93e-04)", titleDy: -5, series: cd200Series, xMax: 64.2, yr: [300, 500], yTicks: [300, 350, 400, 450, 500] });
linePanel({ box: [226, 504, 145, 107], left: 33, title: "NRP1 (P=4.68e-04)", titleDy: -5, series: nrp1Series, xMax: 64, yr: [947, 1307], yTicks: [1000, 1100, 1200, 1300] });
linePanel({ box: [410, 504, 146, 107], left: 33, title: "TNFRSF14 (P=0.004)", titleDy: -5, series: tnfrsf14Series, xMax: 64.2, yr: [85, 105], yTicks: [85, 90, 95, 100, 105] });
linePanel({ box: [595, 504, 147, 107], left: 33, title: "TNFRSF25 (P=0.008)", titleDy: -5, series: tnfrsf25Series, xMax: 64, yr: [63.5, 78.4], yTicks: [66, 69, 72, 75, 78] });

/* =========================================
   PANEL C - CORRELATION HEATMAP
   ========================================= */
const rampStops = [[-1,[58,74,140]],[-0.7,[82,82,145]],[-0.4,[148,137,189]],[-0.1,[226,222,238]],[0,[255,255,255]],[0.15,[253,208,205]],[0.3,[249,170,165]],[0.6,[236,91,88]],[1,[229,52,43]]];
function corrColor(v) {
  for (let i = 1; i < rampStops.length; i++) {
    const [hi, c1] = rampStops[i];
    const [lo, c0] = rampStops[i - 1];
    if (v <= hi) {
      const t = (v - lo) / (hi - lo);
      return `rgb(${c0.map((c, k) => Math.round(c + (c1[k] - c) * t)).join(",")})`;
    }
  }
  return "rgb(229,52,43)";
}

const heatValues = [roraCorr, cry2Corr, per2Corr, per3Corr, dbpCorr];
const cellLabels = {
  id: "cellLabels",
  afterDatasetsDraw(chart) {
    const { ctx, scales: { x, y } } = chart;
    ctx.save();
    ctx.font = "bold 9px 'Liberation Sans'";
    ctx.fillStyle = "#2a2a2a";
    ctx.textAlign = "center";
    ctx.textBaseline = "middle";
    heatValues.forEach((row, r) => {
      row.forEach((v, c) => {
        const label = String(v).replace("-", "\u2212");
        const dy = c === 1 ? 2.5 : 0; // CD200 column sits a little lower in the figure
        ctx.fillText(label, x.getPixelForValue(c), y.getPixelForValue(r + 0.5) + dy);
      });
    });
    ctx.restore();
  },
};

addChart([90, 729, 312, 190], [90, 78, 2, 1], {
  type: "bar",
  data: {
    labels: heatCols,
    datasets: heatValues.map((row, r) => ({
      data: row.map(() => [r, r + 1]),
      backgroundColor: row.map(corrColor),
      borderWidth: 0,
      barPercentage: 1,
      categoryPercentage: 1,
      grouped: false,
    })),
  },
  options: {
    scales: {
      x: {
        position: "top",
        afterFit: fixHeight(78),
        ticks: { autoSkip: false, minRotation: 90, maxRotation: 90, labelOffset: 11, font: { size: 12 }, color: "#333", padding: 5 },
        grid: { display: false, drawTicks: false },
        border: { display: false },
      },
      y: {
        type: "linear", min: 0, max: 5, reverse: true,
        afterBuildTicks: setTicks([0.5, 1.5, 2.5, 3.5, 4.5]),
        afterFit: fixWidth(90),
        ticks: { autoSkip: false, font: { size: 12.5 }, color: "#333", padding: 7, callback: v => heatRows[Math.floor(v)] },
        grid: { display: false, drawTicks: false },
        border: { display: false },
      },
    },
  },
  plugins: [cellLabels],
}, { top: 0, right: 2, left: 0, bottom: 1 });

// colour key
addChart([417, 726, 17, 190], [1, 6, 30, 4], {
  type: "bar",
  data: {
    labels: [""],
    datasets: [{
      data: [[-1, 1]],
      barPercentage: 1,
      categoryPercentage: 1,
      borderWidth: 1.4,
      borderColor: "#3a3a3a",
      borderSkipped: false,
      backgroundColor: ctx => {
        const area = ctx.chart.chartArea;
        if (!area) return "#fff";
        const g = ctx.chart.ctx.createLinearGradient(0, area.bottom, 0, area.top);
        rampStops.forEach(([v]) => g.addColorStop((v + 1) / 2, corrColor(v)));
        return g;
      },
    }],
  },
  options: {
    scales: {
      x: { display: false },
      y: {
        type: "linear", position: "right", min: -1, max: 1,
        afterBuildTicks: setTicks(colorbarTicks),
        afterFit: fixWidth(30),
        ticks: {
          autoSkip: false, font: { size: 8.5 }, color: "#555", padding: 4,
          callback: v => String(Math.round(v * 10) / 10).replace("-", "\u2212"),
        },
        grid: { drawOnChartArea: false, tickLength: 3, tickColor: "#555" },
        border: { display: false },
      },
    },
  },
}, { top: 6, right: 0, left: 1, bottom: 4 });
</script>
</body>
</html>
